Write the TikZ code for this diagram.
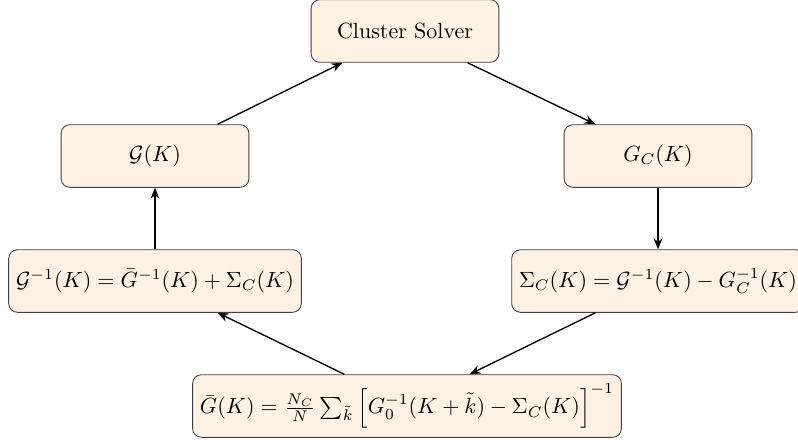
\documentclass[tikz,border=0pt]{standalone}
\usetikzlibrary{arrows.meta}
\begin{document}
\begin{tikzpicture}[x=0.4545pt,y=-0.4545pt,
  box/.style={draw=black!75, fill=orange!10, rounded corners=4pt, minimum width=3cm, minimum height=1cm},
  conn/.style={-{Stealth[length=5pt,width=4pt]}, semithick}]
\useasboundingbox (0,0) rectangle (798,442);
\node[box] (cs) at (405,31) {Cluster Solver};
\node[box] (g) at (155,156) {$\mathcal{G}(K)$};
\node[box] (gc) at (658,156) {$G_C(K)$};
\node[box] (leq) at (155,281) {$\mathcal{G}^{-1}(K) = \bar{G}^{-1}(K) + \Sigma_C(K)$};
\node[box] (req) at (658,281) {$\Sigma_C(K) = \mathcal{G}^{-1}(K) - G_C^{-1}(K)$};
\node[box] (bot) at (407,406) {$\bar{G}(K) = \frac{N_C}{N}\sum_{\tilde{k}}\left[G_0^{-1}(K+\tilde{k}) - \Sigma_C(K)\right]^{-1}$};
\draw[conn] ([xshift=1cm]g.north) -- ([xshift=-1cm]cs.south);
\draw[conn] ([xshift=1cm]cs.south) -- ([xshift=-1cm]gc.north);
\draw[conn] (gc.south) -- (req.north);
\draw[conn] ([xshift=-1cm]req.south) -- ([xshift=1cm]bot.north);
\draw[conn] ([xshift=-1cm]bot.north) -- ([xshift=1cm]leq.south);
\draw[conn] (leq.north) -- (g.south);
\end{tikzpicture}
\end{document}
